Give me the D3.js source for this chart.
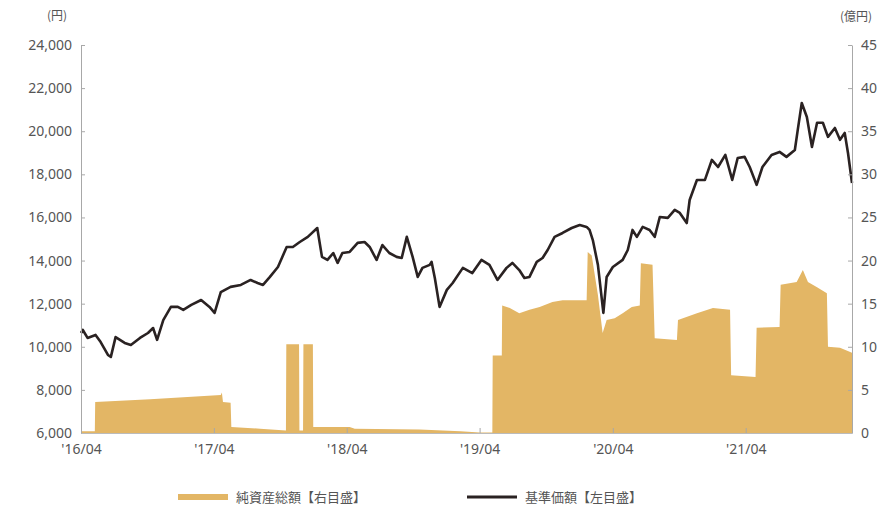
<!DOCTYPE html>
<html><head><meta charset="utf-8">
<script src="https://cdn.jsdelivr.net/npm/d3@7"></script>
<style>body{margin:0;background:#fff}svg{display:block}text{font-family:"Noto Sans CJK JP","Noto Sans",sans-serif}</style>
</head><body>
<svg id="c" width="882" height="511"></svg>
<script>
// 基準価額 (円, left axis)
const navDates = ["2016-04-01","2016-04-06","2016-04-19","2016-05-11","2016-05-25","2016-06-14","2016-06-22","2016-07-05","2016-07-30","2016-08-16","2016-09-10","2016-10-02","2016-10-16","2016-10-27","2016-11-13","2016-12-04","2016-12-23","2017-01-07","2017-01-29","2017-02-25","2017-03-20","2017-04-03","2017-04-20","2017-05-17","2017-06-14","2017-07-11","2017-07-30","2017-08-14","2017-09-02","2017-09-24","2017-10-18","2017-11-04","2017-11-23","2017-12-15","2018-01-10","2018-01-23","2018-02-07","2018-02-23","2018-03-07","2018-03-20","2018-04-09","2018-05-01","2018-05-20","2018-06-03","2018-06-22","2018-07-08","2018-07-27","2018-08-16","2018-08-30","2018-09-13","2018-09-29","2018-10-13","2018-10-26","2018-11-15","2018-11-20","2018-11-29","2018-12-12","2019-01-01","2019-01-17","2019-02-14","2019-03-12","2019-04-06","2019-04-28","2019-05-20","2019-06-14","2019-06-30","2019-07-19","2019-08-02","2019-08-16","2019-09-05","2019-09-21","2019-10-05","2019-10-24","2019-11-15","2019-12-10","2020-01-01","2020-01-20","2020-01-28","2020-02-06","2020-02-20","2020-03-06","2020-03-15","2020-04-01","2020-04-28","2020-05-12","2020-05-25","2020-06-06","2020-06-22","2020-07-11","2020-07-25","2020-08-08","2020-08-30","2020-09-18","2020-10-02","2020-10-21","2020-10-29","2020-11-18","2020-12-10","2020-12-29","2021-01-15","2021-02-04","2021-02-23","2021-03-10","2021-03-29","2021-04-12","2021-05-01","2021-05-17","2021-06-11","2021-07-03","2021-07-22","2021-08-14","2021-08-22","2021-09-02","2021-09-16","2021-09-30","2021-10-14","2021-10-30","2021-11-13","2021-12-02","2021-12-16","2021-12-29","2022-01-07","2022-01-18"];
const navValues = [10640,10780,10410,10550,10220,9620,9530,10450,10180,10080,10410,10640,10870,10320,11240,11850,11850,11710,11940,12170,11850,11570,12540,12780,12870,13100,12960,12870,13240,13700,14630,14630,14860,15100,15510,14170,14030,14350,13890,14350,14400,14820,14860,14630,14030,14720,14350,14170,14120,15100,14170,13240,13660,13800,13940,13190,11850,12640,12960,13660,13420,14030,13800,13100,13660,13890,13560,13190,13240,13940,14120,14490,15100,15280,15510,15650,15560,15420,14950,13800,11570,13240,13700,14030,14490,15420,15100,15560,15420,15100,16020,15980,16350,16210,15740,16810,17740,17740,18670,18340,18900,17740,18760,18810,18340,17510,18340,18900,19040,18810,19130,20060,21310,20660,19270,20390,20390,19740,20150,19600,19920,18990,17600];

// 純資産総額 (億円, right axis)
const aumDates = ["2016-04-01","2016-05-09","2016-05-10","2016-10-08","2017-04-20","2017-04-23","2017-04-26","2017-05-17","2017-05-19","2017-08-06","2017-10-16","2017-10-17","2017-11-21","2017-11-22","2017-12-02","2017-12-03","2017-12-29","2017-12-30","2018-04-09","2018-04-23","2018-10-18","2019-02-07","2019-04-01","2019-05-06","2019-05-07","2019-06-01","2019-06-02","2019-06-23","2019-07-19","2019-08-16","2019-09-13","2019-10-18","2019-11-15","2020-01-20","2020-01-23","2020-02-03","2020-02-20","2020-03-04","2020-03-15","2020-04-06","2020-04-28","2020-05-23","2020-06-14","2020-06-17","2020-07-19","2020-07-25","2020-09-24","2020-09-27","2020-11-18","2021-01-01","2021-02-17","2021-02-20","2021-04-28","2021-05-01","2021-07-03","2021-07-06","2021-08-19","2021-09-05","2021-09-19","2021-10-14","2021-11-10","2021-11-13","2021-12-16","2022-01-18"];
const aumValues = [0.2,0.2,3.6,3.9,4.4,4.7,3.6,3.5,0.7,0.5,0.3,10.3,10.3,0.3,0.3,10.3,10.3,0.7,0.7,0.5,0.4,0.2,0.05,0.05,9.0,9.0,14.8,14.5,13.9,14.3,14.6,15.2,15.4,15.4,21.0,20.6,16.0,11.6,13.1,13.3,13.9,14.6,14.8,19.7,19.5,11.0,10.8,13.1,13.9,14.5,14.3,6.7,6.5,12.2,12.3,17.2,17.5,18.9,17.5,16.9,16.2,10.0,9.9,9.3];

const leftTicks = [6000,8000,10000,12000,14000,16000,18000,20000,22000,24000];
const rightTicks = [0,5,10,15,20,25,30,35,40,45];
const xTickDates = ["2016-04-01","2017-04-01","2018-04-01","2019-04-01","2020-04-01","2021-04-01"];
const xTickLabels = ["'16/04","'17/04","'18/04","'19/04","'20/04","'21/04"];
const leftUnit = "(円)", rightUnit = "(億円)";
const legendLabels = ["純資産総額【右目盛】","基準価額【左目盛】"];

const parse = d3.timeParse("%Y-%m-%d");
const svg = d3.select("#c");
const L = 81, R = 852, T = 45, B = 433;
const x = d3.scaleTime().domain([parse("2016-04-01"), parse("2022-01-18")]).range([L, R]);
const yL = d3.scaleLinear().domain([6000, 24000]).range([B, T]);
const yR = d3.scaleLinear().domain([0, 45]).range([B, T]);

const gold = "#E3B665", dark = "#2a2222", axisCol = "#a8a8a8", txt = "#555";

const aum = aumDates.map((d, i) => ({d: parse(d), v: aumValues[i]}));
const nav = navDates.map((d, i) => ({d: parse(d), v: navValues[i]}));

svg.append("path").datum(aum)
  .attr("fill", gold)
  .attr("d", d3.area().x(p => x(p.d)).y0(B).y1(p => yR(p.v)));

svg.append("path").datum(nav)
  .attr("fill", "none").attr("stroke", dark).attr("stroke-width", 2.6).attr("stroke-linejoin", "round")
  .attr("d", d3.line().x(p => x(p.d)).y(p => yL(p.v)));

function styleAxis(g) {
  g.selectAll(".domain, line").attr("stroke", axisCol);
  g.selectAll("text").attr("fill", txt).style("font-size", "14px").style("font-family", "'Noto Sans','DejaVu Sans',sans-serif");
}

const gl = svg.append("g").attr("transform", `translate(${L},0)`)
  .call(d3.axisLeft(yL).tickValues(leftTicks).tickSizeInner(-4).tickSizeOuter(0).tickPadding(9).tickFormat(d3.format(",")));
styleAxis(gl);
const gr = svg.append("g").attr("transform", `translate(${R},0)`)
  .call(d3.axisRight(yR).tickValues(rightTicks).tickSizeInner(-4).tickSizeOuter(0).tickPadding(9));
styleAxis(gr);
const gb = svg.append("g").attr("transform", `translate(0,${B})`)
  .call(d3.axisBottom(x).tickValues(xTickDates.map(parse)).tickSizeInner(-5).tickSizeOuter(0).tickPadding(11)
    .tickFormat((d, i) => xTickLabels[i]));
styleAxis(gb);
gb.select(".domain").attr("stroke", "#bbb");

svg.append("text").attr("x", 57).attr("y", 20).attr("text-anchor", "middle")
  .attr("fill", txt).style("font-size", "12px").text(leftUnit);
svg.append("text").attr("x", 856).attr("y", 21).attr("text-anchor", "middle")
  .attr("fill", txt).style("font-size", "12px").text(rightUnit);

const legend = [
  {x0: 178, x1: 228, tx: 236, col: gold, w: 6, label: legendLabels[0]},
  {x0: 467, x1: 517, tx: 525, col: dark, w: 3, label: legendLabels[1]}
];
legend.forEach(l => {
  svg.append("line").attr("x1", l.x0).attr("x2", l.x1).attr("y1", 497).attr("y2", 497)
    .attr("stroke", l.col).attr("stroke-width", l.w);
  svg.append("text").attr("x", l.tx).attr("y", 502).attr("fill", txt)
    .style("font-size", "13px").text(l.label);
});
</script>
</body></html>
